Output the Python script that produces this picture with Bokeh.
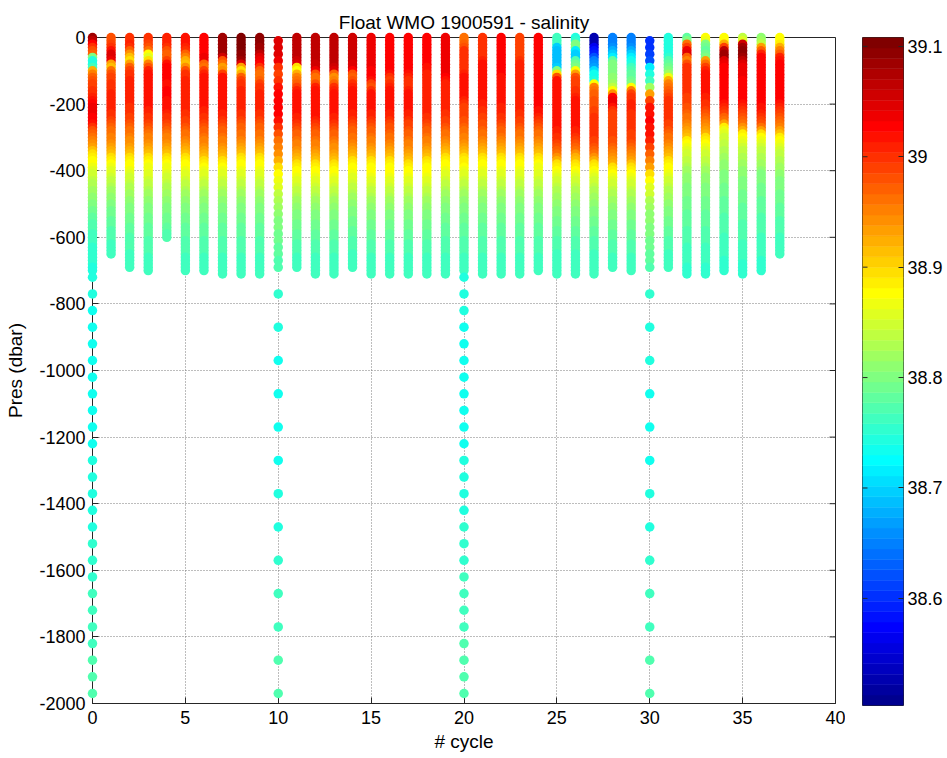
import numpy as np
from bokeh.plotting import figure
from bokeh.models import ColumnDataSource, LinearColorMapper, FixedTicker, Range1d
from bokeh.layouts import row
from bokeh.embed import file_html
from bokeh.resources import INLINE

FONT = "Liberation Sans"

# ---------------- texts / ticks ----------------
title_text = "Float WMO 1900591 - salinity"
x_label = "# cycle"
y_label = "Pres (dbar)"
x_ticks = [0, 5, 10, 15, 20, 25, 30, 35, 40]
y_ticks = [-2000, -1800, -1600, -1400, -1200, -1000, -800, -600, -400, -200, 0]
cbar_ticks = [38.6, 38.7, 38.8, 38.9, 39.0, 39.1]
sal_low = 38.503
sal_high = 39.108

# ---------------- pressure levels (dbar, plotted negative) ----------------
pres_10 = [0, -10, -20, -30, -40, -50, -60, -70, -80, -90,
           -100, -110, -120, -130, -140, -150, -160, -170, -180, -190,
           -200, -210, -220, -230, -240, -250, -260, -270, -280, -290,
           -300, -310, -320, -330, -340, -350, -360, -370, -380, -390,
           -400, -410, -420, -430, -440, -450, -460, -470, -480, -490,
           -500, -510, -520, -530, -540, -550, -560, -570, -580, -590,
           -600, -610, -620, -630, -640, -650, -660, -670, -680, -690,
           -700, -710]
pres_20 = [-10, -30, -50, -70, -90, -110, -130, -150, -170, -190,
           -210, -230, -250, -270, -290, -310, -330, -350, -370, -390,
           -410, -430, -450, -470, -490, -510, -530, -550, -570, -590,
           -610, -630, -650, -670, -690]
deep_pres_50 = [-720, -770, -820, -870, -920, -970, -1020, -1070, -1120, -1170,
                -1220, -1270, -1320, -1370, -1420, -1470, -1520, -1570, -1620, -1670,
                -1720, -1770, -1820, -1870, -1920, -1970]
deep_pres_100 = [-770, -870, -970, -1070, -1170, -1270, -1370, -1470, -1570, -1670,
                 -1770, -1870, -1970]

# ---------------- salinity profiles per cycle ----------------
sal_c00 = [39.08, 39.07, 39.03, 39.00, 38.98, 38.97, 38.80, 38.74, 38.74, 38.76,
           38.92, 38.95, 38.97, 38.98, 38.99, 38.99, 39.00, 39.00, 39.01, 39.02,
           39.03, 39.04, 39.04, 39.04, 39.03, 39.03, 39.02, 39.00, 38.98, 38.97,
           38.96, 38.95, 38.94, 38.93, 38.91, 38.90, 38.89, 38.88, 38.88, 38.87,
           38.86, 38.85, 38.85, 38.84, 38.83, 38.83, 38.82, 38.82, 38.81, 38.81,
           38.80, 38.80, 38.79, 38.79, 38.78, 38.78, 38.77, 38.77, 38.77, 38.76,
           38.76, 38.76, 38.76, 38.75, 38.75, 38.75, 38.75, 38.75, 38.75, 38.74,
           38.74]
deep_sal_c00 = [38.74, 38.74, 38.73, 38.73, 38.73, 38.73, 38.73, 38.73, 38.73, 38.73,
                38.73, 38.74, 38.74, 38.74, 38.74, 38.74, 38.75, 38.75, 38.75, 38.76,
                38.76, 38.76, 38.76, 38.77, 38.77, 38.77]
sal_c01 = [38.98, 38.98, 38.99, 39.00, 39.02, 39.05, 39.05, 39.04, 38.93, 38.91,
           38.96, 38.98, 38.99, 38.99, 39.00, 39.00, 39.00, 39.01, 39.01, 39.01,
           39.01, 39.01, 39.01, 39.00, 39.00, 38.99, 38.98, 38.97, 38.96, 38.96,
           38.95, 38.95, 38.94, 38.93, 38.92, 38.91, 38.90, 38.89, 38.88, 38.87,
           38.86, 38.86, 38.85, 38.84, 38.84, 38.83, 38.82, 38.82, 38.81, 38.81,
           38.80, 38.80, 38.79, 38.79, 38.79, 38.78, 38.78, 38.78, 38.77, 38.77,
           38.77, 38.77, 38.76, 38.76, 38.76, 38.76]
sal_c02 = [39.00, 39.00, 39.01, 39.00, 38.97, 38.94, 38.91, 38.90, 38.93, 38.97,
           38.99, 39.00, 39.00, 39.01, 39.01, 39.01, 39.01, 39.01, 39.01, 39.01,
           39.01, 39.00, 39.00, 39.00, 38.99, 38.99, 38.98, 38.97, 38.96, 38.96,
           38.95, 38.94, 38.94, 38.93, 38.92, 38.91, 38.90, 38.89, 38.88, 38.88,
           38.87, 38.86, 38.85, 38.85, 38.84, 38.83, 38.83, 38.82, 38.82, 38.81,
           38.81, 38.80, 38.80, 38.80, 38.79, 38.79, 38.79, 38.78, 38.78, 38.78,
           38.77, 38.77, 38.77, 38.77, 38.77, 38.76, 38.76, 38.76, 38.76, 38.76]
sal_c03 = [39.00, 39.00, 38.99, 38.98, 38.96, 38.88, 38.86, 38.90, 38.95, 38.98,
           39.01, 39.02, 39.02, 39.02, 39.02, 39.02, 39.02, 39.02, 39.02, 39.02,
           39.02, 39.02, 39.01, 39.01, 39.00, 39.00, 38.99, 38.98, 38.97, 38.96,
           38.95, 38.95, 38.94, 38.93, 38.92, 38.91, 38.90, 38.89, 38.88, 38.87,
           38.87, 38.86, 38.86, 38.85, 38.84, 38.84, 38.83, 38.82, 38.82, 38.81,
           38.81, 38.80, 38.80, 38.80, 38.79, 38.79, 38.79, 38.78, 38.78, 38.78,
           38.78, 38.77, 38.77, 38.77, 38.77, 38.77, 38.76, 38.76, 38.76, 38.76,
           38.76]
sal_c04 = [39.01, 39.01, 39.01, 39.00, 38.98, 38.97, 38.97, 38.99, 39.02, 39.03,
           39.03, 39.03, 39.03, 39.03, 39.02, 39.02, 39.03, 39.03, 39.03, 39.02,
           39.02, 39.02, 39.02, 39.01, 39.00, 39.00, 38.99, 38.98, 38.97, 38.96,
           38.95, 38.95, 38.94, 38.93, 38.92, 38.91, 38.90, 38.89, 38.88, 38.87,
           38.87, 38.86, 38.85, 38.85, 38.84, 38.83, 38.83, 38.82, 38.82, 38.81,
           38.81, 38.80, 38.80, 38.80, 38.79, 38.79, 38.79, 38.78, 38.78, 38.77,
           38.77]
sal_c05 = [39.02, 39.02, 39.02, 39.01, 39.00, 38.97, 38.95, 38.92, 38.91, 38.94,
           38.98, 39.00, 39.00, 39.01, 39.01, 39.01, 39.01, 39.01, 39.01, 39.01,
           39.01, 39.01, 39.01, 39.00, 39.00, 38.99, 38.99, 38.98, 38.97, 38.96,
           38.96, 38.95, 38.94, 38.93, 38.92, 38.91, 38.90, 38.89, 38.88, 38.88,
           38.87, 38.86, 38.86, 38.85, 38.84, 38.84, 38.83, 38.82, 38.82, 38.81,
           38.81, 38.80, 38.80, 38.80, 38.79, 38.79, 38.79, 38.78, 38.78, 38.78,
           38.78, 38.77, 38.77, 38.77, 38.77, 38.77, 38.76, 38.76, 38.76, 38.76,
           38.76]
sal_c06 = [39.03, 39.03, 39.03, 39.03, 39.03, 39.03, 39.04, 39.04, 38.97, 38.96,
           38.99, 39.01, 39.02, 39.02, 39.02, 39.02, 39.02, 39.02, 39.02, 39.02,
           39.02, 39.02, 39.01, 39.01, 39.00, 39.00, 38.99, 38.98, 38.97, 38.97,
           38.96, 38.95, 38.95, 38.94, 38.93, 38.92, 38.91, 38.90, 38.89, 38.88,
           38.87, 38.86, 38.86, 38.85, 38.84, 38.84, 38.83, 38.82, 38.82, 38.81,
           38.81, 38.80, 38.80, 38.80, 38.79, 38.79, 38.79, 38.78, 38.78, 38.78,
           38.78, 38.77, 38.77, 38.77, 38.77, 38.77, 38.76, 38.76, 38.76, 38.76,
           38.76]
sal_c07 = [39.08, 39.08, 39.08, 39.08, 39.08, 39.08, 39.06, 38.98, 38.96, 38.93,
           38.94, 38.99, 39.02, 39.02, 39.02, 39.02, 39.02, 39.02, 39.02, 39.02,
           39.02, 39.02, 39.02, 39.01, 39.01, 39.00, 38.99, 38.98, 38.97, 38.97,
           38.96, 38.95, 38.95, 38.94, 38.93, 38.92, 38.91, 38.90, 38.89, 38.88,
           38.87, 38.86, 38.86, 38.85, 38.84, 38.84, 38.83, 38.82, 38.82, 38.81,
           38.81, 38.80, 38.80, 38.80, 38.79, 38.79, 38.79, 38.78, 38.78, 38.78,
           38.78, 38.77, 38.77, 38.77, 38.77, 38.77, 38.76, 38.76, 38.76, 38.76,
           38.76, 38.76]
sal_c08 = [39.10, 39.10, 39.10, 39.10, 39.10, 39.09, 39.09, 39.08, 39.05, 38.93,
           38.90, 38.92, 38.97, 38.99, 39.00, 39.00, 39.01, 39.01, 39.01, 39.01,
           39.01, 39.01, 39.01, 39.00, 39.00, 38.99, 38.98, 38.97, 38.97, 38.96,
           38.96, 38.95, 38.94, 38.93, 38.92, 38.91, 38.90, 38.89, 38.88, 38.88,
           38.87, 38.86, 38.86, 38.85, 38.84, 38.84, 38.83, 38.82, 38.82, 38.81,
           38.81, 38.80, 38.80, 38.80, 38.79, 38.79, 38.79, 38.78, 38.78, 38.78,
           38.78, 38.77, 38.77, 38.77, 38.77, 38.77, 38.76, 38.76, 38.76, 38.76,
           38.76, 38.76]
sal_c09 = [39.09, 39.09, 39.09, 39.08, 39.08, 39.07, 39.05, 39.04, 39.03, 39.00,
           38.97, 38.96, 38.96, 38.97, 38.99, 39.00, 39.00, 39.01, 39.01, 39.01,
           39.01, 39.01, 39.01, 39.00, 39.00, 38.99, 38.98, 38.97, 38.97, 38.96,
           38.96, 38.95, 38.94, 38.93, 38.92, 38.91, 38.90, 38.89, 38.88, 38.88,
           38.87, 38.86, 38.86, 38.85, 38.84, 38.84, 38.83, 38.82, 38.82, 38.81,
           38.81, 38.80, 38.80, 38.80, 38.79, 38.79, 38.79, 38.78, 38.78, 38.78,
           38.78, 38.77, 38.77, 38.77, 38.77, 38.77, 38.76, 38.76, 38.76, 38.76,
           38.76, 38.76]
sal_c10 = [39.05, 39.05, 39.05, 39.04, 39.00, 38.99, 39.00, 39.02, 39.03, 39.03,
           39.03, 39.03, 39.02, 39.00, 38.98, 38.96, 38.95, 38.94, 38.92, 38.90,
           38.88, 38.87, 38.86, 38.84, 38.83, 38.82, 38.81, 38.80, 38.80, 38.79,
           38.79, 38.78, 38.78, 38.77, 38.77]
deep_sal_c10 = [38.75, 38.74, 38.73, 38.73, 38.73, 38.73, 38.74, 38.74, 38.75, 38.76,
                38.76, 38.77, 38.77]
sal_c11 = [39.07, 39.07, 39.07, 39.07, 39.07, 39.07, 39.07, 39.06, 39.05, 38.90,
           38.88, 38.92, 38.95, 38.96, 38.97, 38.99, 39.01, 39.02, 39.02, 39.02,
           39.02, 39.02, 39.02, 39.02, 39.01, 39.01, 39.00, 38.99, 38.98, 38.97,
           38.97, 38.96, 38.95, 38.95, 38.94, 38.93, 38.92, 38.91, 38.90, 38.89,
           38.88, 38.88, 38.87, 38.86, 38.86, 38.85, 38.84, 38.84, 38.83, 38.82,
           38.82, 38.81, 38.81, 38.80, 38.80, 38.80, 38.79, 38.79, 38.79, 38.78,
           38.78, 38.78, 38.77, 38.77, 38.77, 38.77, 38.76, 38.76, 38.76, 38.76]
sal_c12 = [39.07, 39.07, 39.07, 39.07, 39.07, 39.07, 39.07, 39.07, 39.06, 39.06,
           39.04, 38.98, 38.96, 38.96, 38.98, 39.01, 39.02, 39.02, 39.02, 39.02,
           39.02, 39.02, 39.02, 39.02, 39.02, 39.01, 39.00, 38.99, 38.98, 38.97,
           38.97, 38.96, 38.95, 38.95, 38.94, 38.93, 38.92, 38.91, 38.90, 38.89,
           38.88, 38.88, 38.87, 38.86, 38.86, 38.85, 38.84, 38.84, 38.83, 38.82,
           38.82, 38.81, 38.81, 38.80, 38.80, 38.80, 38.79, 38.79, 38.79, 38.78,
           38.78, 38.78, 38.77, 38.77, 38.77, 38.77, 38.76, 38.76, 38.76, 38.76,
           38.76, 38.76]
sal_c13 = [39.07, 39.07, 39.07, 39.07, 39.07, 39.07, 39.07, 39.07, 39.07, 39.06,
           39.05, 38.97, 38.94, 38.95, 38.97, 39.00, 39.01, 39.02, 39.02, 39.02,
           39.02, 39.02, 39.02, 39.02, 39.01, 39.01, 39.00, 38.99, 38.98, 38.97,
           38.97, 38.96, 38.95, 38.94, 38.94, 38.93, 38.92, 38.91, 38.90, 38.89,
           38.88, 38.88, 38.87, 38.86, 38.86, 38.85, 38.84, 38.84, 38.83, 38.82,
           38.82, 38.81, 38.81, 38.80, 38.80, 38.80, 38.79, 38.79, 38.79, 38.78,
           38.78, 38.78, 38.77, 38.77, 38.77, 38.77, 38.76, 38.76, 38.76, 38.76,
           38.76, 38.76]
sal_c14 = [39.06, 39.06, 39.06, 39.06, 39.06, 39.06, 39.06, 39.06, 39.05, 39.05,
           39.03, 38.98, 38.97, 38.98, 39.00, 39.01, 39.02, 39.02, 39.02, 39.02,
           39.02, 39.02, 39.02, 39.01, 39.01, 39.00, 38.99, 38.98, 38.97, 38.97,
           38.96, 38.96, 38.95, 38.94, 38.93, 38.92, 38.91, 38.90, 38.89, 38.88,
           38.88, 38.87, 38.86, 38.86, 38.85, 38.84, 38.84, 38.83, 38.82, 38.82,
           38.81, 38.81, 38.80, 38.80, 38.80, 38.79, 38.79, 38.79, 38.78, 38.78,
           38.78, 38.77, 38.77, 38.77, 38.77, 38.76, 38.76, 38.76, 38.76, 38.76]
sal_c15 = [39.04, 39.04, 39.04, 39.04, 39.04, 39.04, 39.04, 39.04, 39.04, 39.04,
           39.03, 39.03, 39.03, 39.02, 38.99, 38.98, 39.00, 39.02, 39.02, 39.02,
           39.02, 39.02, 39.02, 39.01, 39.01, 39.00, 38.99, 38.98, 38.97, 38.97,
           38.96, 38.95, 38.95, 38.94, 38.93, 38.92, 38.91, 38.90, 38.89, 38.88,
           38.88, 38.88, 38.87, 38.86, 38.86, 38.85, 38.84, 38.84, 38.83, 38.82,
           38.82, 38.81, 38.81, 38.80, 38.80, 38.80, 38.79, 38.79, 38.79, 38.78,
           38.78, 38.78, 38.77, 38.77, 38.77, 38.77, 38.76, 38.76, 38.76, 38.76,
           38.76, 38.76]
sal_c16 = [39.03, 39.03, 39.03, 39.03, 39.03, 39.03, 39.03, 39.03, 39.03, 39.03,
           39.03, 39.02, 39.00, 38.99, 39.00, 39.01, 39.02, 39.02, 39.02, 39.02,
           39.02, 39.02, 39.02, 39.01, 39.01, 39.00, 38.99, 38.98, 38.98, 38.97,
           38.96, 38.96, 38.95, 38.94, 38.93, 38.92, 38.91, 38.90, 38.89, 38.88,
           38.88, 38.88, 38.87, 38.86, 38.86, 38.85, 38.84, 38.84, 38.83, 38.82,
           38.82, 38.81, 38.81, 38.80, 38.80, 38.80, 38.79, 38.79, 38.79, 38.78,
           38.78, 38.78, 38.77, 38.77, 38.77, 38.77, 38.76, 38.76, 38.76, 38.76,
           38.76, 38.76]
sal_c17 = [39.03, 39.03, 39.03, 39.03, 39.03, 39.03, 39.03, 39.03, 39.03, 39.03,
           39.03, 39.02, 39.01, 39.00, 39.00, 39.00, 39.01, 39.02, 39.02, 39.02,
           39.02, 39.02, 39.02, 39.01, 39.01, 39.00, 38.99, 38.99, 38.98, 38.97,
           38.97, 38.96, 38.95, 38.95, 38.94, 38.93, 38.92, 38.91, 38.90, 38.89,
           38.88, 38.88, 38.87, 38.86, 38.86, 38.85, 38.84, 38.84, 38.83, 38.82,
           38.82, 38.81, 38.81, 38.80, 38.80, 38.80, 38.79, 38.79, 38.79, 38.78,
           38.78, 38.78, 38.77, 38.77, 38.77, 38.77, 38.76, 38.76, 38.76, 38.76,
           38.76, 38.76]
sal_c18 = [39.03, 39.03, 39.03, 39.03, 39.03, 39.03, 39.03, 39.03, 39.03, 39.02,
           39.02, 39.01, 39.01, 39.01, 39.01, 39.01, 39.01, 39.01, 39.01, 39.01,
           39.01, 39.01, 39.01, 39.01, 39.00, 39.00, 38.99, 38.98, 38.97, 38.97,
           38.96, 38.95, 38.95, 38.94, 38.93, 38.92, 38.91, 38.90, 38.89, 38.88,
           38.88, 38.88, 38.87, 38.86, 38.86, 38.85, 38.84, 38.84, 38.83, 38.82,
           38.82, 38.81, 38.81, 38.80, 38.80, 38.80, 38.79, 38.79, 38.79, 38.78,
           38.78, 38.78, 38.77, 38.77, 38.77, 38.77, 38.76, 38.76, 38.76, 38.76,
           38.76, 38.76]
sal_c19 = [39.04, 39.04, 39.04, 39.04, 39.04, 39.04, 39.04, 39.04, 39.04, 39.04,
           39.04, 39.04, 39.03, 39.02, 39.01, 39.01, 39.01, 39.01, 39.01, 39.01,
           39.01, 39.01, 39.01, 39.00, 39.00, 38.99, 38.99, 38.98, 38.97, 38.96,
           38.96, 38.95, 38.94, 38.93, 38.92, 38.91, 38.90, 38.89, 38.88, 38.88,
           38.87, 38.86, 38.86, 38.85, 38.84, 38.84, 38.83, 38.82, 38.82, 38.81,
           38.81, 38.80, 38.80, 38.80, 38.79, 38.79, 38.79, 38.78, 38.78, 38.78,
           38.78, 38.77, 38.77, 38.77, 38.77, 38.77, 38.76, 38.76, 38.76, 38.76,
           38.76, 38.76]
sal_c20 = [38.96, 38.96, 38.97, 38.98, 39.00, 39.00, 39.00, 39.00, 39.00, 39.00,
           39.00, 39.01, 39.02, 39.02, 39.02, 39.02, 39.02, 39.02, 39.02, 39.01,
           39.00, 38.99, 38.99, 38.99, 38.99, 38.98, 38.98, 38.97, 38.96, 38.96,
           38.95, 38.95, 38.94, 38.93, 38.92, 38.91, 38.90, 38.89, 38.89, 38.88,
           38.87, 38.86, 38.86, 38.85, 38.84, 38.84, 38.83, 38.82, 38.82, 38.81,
           38.81, 38.80, 38.80, 38.80, 38.79, 38.79, 38.79, 38.78, 38.78, 38.78,
           38.78, 38.77, 38.77, 38.77, 38.77, 38.77, 38.76, 38.76, 38.76, 38.76,
           38.76]
deep_sal_c20 = [38.74, 38.74, 38.74, 38.73, 38.73, 38.73, 38.73, 38.73, 38.73, 38.73,
                38.73, 38.74, 38.74, 38.74, 38.74, 38.75, 38.75, 38.75, 38.76, 38.76,
                38.76, 38.76, 38.77, 38.77, 38.77, 38.77]
sal_c21 = [39.00, 39.00, 39.00, 39.00, 39.00, 39.00, 39.00, 39.01, 39.02, 39.02,
           39.02, 39.02, 39.02, 39.02, 39.02, 39.02, 39.02, 39.02, 39.02, 39.02,
           39.01, 39.01, 39.00, 39.00, 38.99, 38.99, 38.98, 38.98, 38.97, 38.96,
           38.96, 38.95, 38.94, 38.93, 38.92, 38.91, 38.90, 38.89, 38.88, 38.88,
           38.87, 38.86, 38.86, 38.85, 38.84, 38.84, 38.83, 38.82, 38.82, 38.81,
           38.81, 38.80, 38.80, 38.80, 38.79, 38.79, 38.79, 38.78, 38.78, 38.78,
           38.78, 38.77, 38.77, 38.77, 38.77, 38.77, 38.76, 38.76, 38.76, 38.76,
           38.76, 38.76]
sal_c22 = [39.03, 39.03, 39.03, 39.03, 39.03, 39.03, 39.03, 39.03, 39.03, 39.03,
           39.03, 39.03, 39.02, 39.02, 39.02, 39.02, 39.02, 39.02, 39.02, 39.02,
           39.02, 39.01, 39.01, 39.01, 39.00, 39.00, 38.99, 38.98, 38.97, 38.97,
           38.96, 38.95, 38.94, 38.93, 38.92, 38.91, 38.90, 38.89, 38.88, 38.88,
           38.87, 38.86, 38.86, 38.85, 38.84, 38.84, 38.83, 38.82, 38.82, 38.81,
           38.81, 38.80, 38.80, 38.80, 38.79, 38.79, 38.79, 38.78, 38.78, 38.78,
           38.78, 38.77, 38.77, 38.77, 38.77, 38.77, 38.76, 38.76, 38.76, 38.76,
           38.76, 38.76]
sal_c23 = [38.99, 38.99, 38.99, 38.99, 38.99, 38.99, 38.99, 39.00, 39.01, 39.01,
           39.01, 39.01, 39.01, 39.01, 39.01, 39.01, 39.01, 39.01, 39.01, 39.01,
           39.01, 39.01, 39.01, 39.00, 39.00, 38.99, 38.99, 38.98, 38.97, 38.96,
           38.96, 38.95, 38.94, 38.93, 38.92, 38.91, 38.90, 38.89, 38.88, 38.88,
           38.87, 38.86, 38.86, 38.85, 38.84, 38.84, 38.83, 38.82, 38.82, 38.81,
           38.81, 38.80, 38.80, 38.80, 38.79, 38.79, 38.79, 38.78, 38.78, 38.78,
           38.78, 38.77, 38.77, 38.77, 38.77, 38.77, 38.76, 38.76, 38.76, 38.76,
           38.76, 38.76]
sal_c24 = [39.03, 39.03, 39.03, 39.03, 39.03, 39.03, 39.03, 39.03, 39.03, 39.03,
           39.03, 39.03, 39.03, 39.03, 39.03, 39.03, 39.03, 39.03, 39.03, 39.03,
           39.03, 39.03, 39.02, 39.02, 39.01, 39.00, 38.99, 38.98, 38.97, 38.96,
           38.96, 38.95, 38.94, 38.93, 38.92, 38.91, 38.90, 38.89, 38.88, 38.87,
           38.87, 38.86, 38.86, 38.85, 38.84, 38.84, 38.83, 38.82, 38.82, 38.81,
           38.81, 38.80, 38.80, 38.80, 38.79, 38.79, 38.79, 38.78, 38.78, 38.78,
           38.78, 38.77, 38.77, 38.77, 38.77, 38.77, 38.76, 38.76, 38.76, 38.76,
           38.76]
sal_c25 = [38.76, 38.76, 38.76, 38.70, 38.69, 38.69, 38.69, 38.69, 38.69, 38.70,
           38.80, 38.90, 38.98, 39.02, 39.02, 39.02, 39.02, 39.02, 39.02, 39.02,
           39.02, 39.02, 39.02, 39.02, 39.02, 39.02, 39.02, 39.02, 39.01, 39.01,
           39.00, 39.00, 38.99, 38.98, 38.97, 38.96, 38.94, 38.92, 38.90, 38.89,
           38.88, 38.87, 38.86, 38.85, 38.85, 38.84, 38.83, 38.83, 38.82, 38.82,
           38.81, 38.81, 38.80, 38.80, 38.80, 38.79, 38.79, 38.79, 38.78, 38.78,
           38.78, 38.77, 38.77, 38.77, 38.77, 38.76, 38.76, 38.76, 38.76, 38.76,
           38.76, 38.76]
sal_c26 = [38.74, 38.75, 38.80, 38.80, 38.72, 38.70, 38.70, 38.77, 38.79, 38.80,
           38.88, 38.93, 38.98, 38.99, 38.99, 38.99, 39.00, 39.00, 39.01, 39.02,
           39.02, 39.02, 39.02, 39.02, 39.02, 39.02, 39.02, 39.02, 39.01, 39.01,
           39.00, 38.99, 38.98, 38.97, 38.96, 38.94, 38.92, 38.91, 38.90, 38.89,
           38.88, 38.87, 38.86, 38.85, 38.85, 38.84, 38.83, 38.83, 38.82, 38.82,
           38.81, 38.81, 38.80, 38.80, 38.80, 38.79, 38.79, 38.79, 38.78, 38.78,
           38.78, 38.77, 38.77, 38.77, 38.77, 38.76, 38.76, 38.76, 38.76, 38.76,
           38.76, 38.76]
sal_c27 = [38.53, 38.53, 38.53, 38.56, 38.58, 38.59, 38.62, 38.65, 38.66, 38.67,
           38.71, 38.73, 38.73, 38.74, 38.88, 38.95, 38.96, 38.97, 38.97, 38.98,
           38.98, 38.98, 38.99, 38.99, 39.00, 39.00, 39.00, 39.00, 39.00, 39.00,
           39.00, 38.99, 38.99, 38.98, 38.97, 38.96, 38.94, 38.92, 38.90, 38.89,
           38.88, 38.87, 38.86, 38.85, 38.85, 38.84, 38.83, 38.83, 38.82, 38.82,
           38.81, 38.81, 38.80, 38.80, 38.80, 38.79, 38.79, 38.79, 38.78, 38.78,
           38.78, 38.77, 38.77, 38.77, 38.77, 38.76, 38.76, 38.76, 38.76, 38.76,
           38.76, 38.76]
sal_c28 = [38.65, 38.65, 38.65, 38.66, 38.68, 38.70, 38.72, 38.78, 38.80, 38.80,
           38.80, 38.80, 38.81, 38.81, 38.82, 38.84, 38.88, 38.94, 39.03, 39.04,
           39.04, 39.02, 39.00, 38.99, 38.99, 38.99, 38.99, 38.99, 38.99, 38.99,
           38.99, 38.98, 38.98, 38.97, 38.96, 38.95, 38.94, 38.93, 38.92, 38.90,
           38.89, 38.88, 38.87, 38.86, 38.85, 38.85, 38.84, 38.83, 38.83, 38.82,
           38.82, 38.81, 38.81, 38.80, 38.80, 38.80, 38.79, 38.79, 38.79, 38.78,
           38.78, 38.78, 38.77, 38.77, 38.77, 38.77, 38.76, 38.76, 38.76, 38.76]
sal_c29 = [38.65, 38.65, 38.65, 38.66, 38.68, 38.70, 38.72, 38.73, 38.74, 38.76,
           38.77, 38.78, 38.78, 38.79, 38.80, 38.88, 38.95, 38.99, 39.00, 39.00,
           39.01, 39.01, 39.01, 39.00, 39.00, 39.00, 39.00, 39.00, 39.00, 38.99,
           38.99, 38.99, 38.98, 38.97, 38.96, 38.95, 38.94, 38.93, 38.91, 38.90,
           38.89, 38.88, 38.87, 38.86, 38.85, 38.85, 38.84, 38.83, 38.83, 38.82,
           38.82, 38.81, 38.81, 38.80, 38.80, 38.80, 38.79, 38.79, 38.79, 38.78,
           38.78, 38.78, 38.77, 38.77, 38.77, 38.77, 38.76, 38.76, 38.76, 38.76,
           38.76]
sal_c30 = [38.60, 38.60, 38.61, 38.62, 38.72, 38.74, 38.76, 38.82, 38.93, 38.99,
           39.02, 39.02, 39.03, 39.02, 39.02, 39.01, 38.99, 38.97, 38.95, 38.93,
           38.90, 38.88, 38.86, 38.85, 38.83, 38.82, 38.81, 38.81, 38.80, 38.80,
           38.79, 38.79, 38.78, 38.78, 38.77]
deep_sal_c30 = [38.75, 38.74, 38.74, 38.73, 38.73, 38.73, 38.74, 38.74, 38.75, 38.76,
                38.76, 38.77, 38.77]
sal_c31 = [38.74, 38.74, 38.74, 38.74, 38.74, 38.74, 38.75, 38.77, 38.78, 38.79,
           38.80, 38.82, 38.87, 38.92, 38.95, 38.96, 38.97, 38.98, 38.99, 39.00,
           39.00, 39.00, 39.00, 39.00, 39.00, 39.00, 38.99, 38.99, 38.98, 38.97,
           38.96, 38.96, 38.95, 38.94, 38.93, 38.92, 38.91, 38.90, 38.89, 38.88,
           38.88, 38.87, 38.86, 38.85, 38.85, 38.84, 38.83, 38.83, 38.82, 38.82,
           38.81, 38.81, 38.80, 38.80, 38.80, 38.79, 38.79, 38.79, 38.78, 38.78,
           38.78, 38.77, 38.77, 38.77, 38.77, 38.76, 38.76, 38.76, 38.76, 38.76]
sal_c32 = [38.78, 38.80, 38.96, 38.99, 39.04, 39.05, 38.97, 38.95, 38.98, 39.00,
           39.00, 39.00, 39.00, 39.00, 39.00, 39.00, 39.00, 39.00, 38.99, 38.99,
           38.99, 38.98, 38.98, 38.97, 38.96, 38.96, 38.95, 38.94, 38.93, 38.92,
           38.91, 38.89, 38.88, 38.87, 38.86, 38.85, 38.85, 38.84, 38.84, 38.83,
           38.82, 38.82, 38.81, 38.81, 38.81, 38.80, 38.80, 38.80, 38.80, 38.79,
           38.79, 38.79, 38.79, 38.78, 38.78, 38.78, 38.78, 38.78, 38.77, 38.77,
           38.77, 38.77, 38.77, 38.76, 38.76, 38.76, 38.76, 38.76, 38.76, 38.75,
           38.75, 38.75]
sal_c33 = [38.88, 38.87, 38.80, 38.79, 38.78, 38.79, 38.80, 38.93, 38.96, 38.99,
           39.01, 39.02, 39.02, 39.02, 39.02, 39.02, 39.02, 39.02, 39.01, 39.01,
           39.00, 39.00, 38.99, 38.98, 38.97, 38.96, 38.95, 38.94, 38.93, 38.92,
           38.90, 38.89, 38.88, 38.87, 38.86, 38.85, 38.85, 38.84, 38.84, 38.83,
           38.82, 38.82, 38.81, 38.81, 38.81, 38.80, 38.80, 38.80, 38.80, 38.79,
           38.79, 38.79, 38.79, 38.78, 38.78, 38.78, 38.78, 38.78, 38.77, 38.77,
           38.77, 38.77, 38.77, 38.76, 38.76, 38.76, 38.76, 38.76, 38.76, 38.75,
           38.75, 38.75]
sal_c34 = [38.88, 38.88, 38.92, 38.99, 39.07, 39.08, 39.08, 39.05, 39.04, 39.03,
           39.03, 39.03, 39.03, 39.03, 39.03, 39.03, 39.03, 39.03, 39.03, 39.03,
           39.02, 39.01, 39.00, 38.99, 38.97, 38.96, 38.93, 38.89, 38.87, 38.86,
           38.85, 38.85, 38.84, 38.84, 38.83, 38.83, 38.82, 38.82, 38.81, 38.81,
           38.81, 38.80, 38.80, 38.80, 38.80, 38.79, 38.79, 38.79, 38.79, 38.78,
           38.78, 38.78, 38.78, 38.78, 38.77, 38.77, 38.77, 38.77, 38.77, 38.77,
           38.76, 38.76, 38.76, 38.76, 38.76, 38.76, 38.76, 38.75, 38.75, 38.75,
           38.75]
sal_c35 = [38.84, 38.86, 39.06, 39.08, 39.09, 39.09, 39.08, 39.07, 39.05, 39.04,
           39.04, 39.04, 39.04, 39.03, 39.03, 39.03, 39.03, 39.03, 39.03, 39.03,
           39.02, 39.01, 39.00, 38.99, 38.98, 38.97, 38.96, 38.94, 38.92, 38.89,
           38.88, 38.87, 38.86, 38.85, 38.84, 38.84, 38.83, 38.83, 38.82, 38.82,
           38.81, 38.81, 38.81, 38.80, 38.80, 38.80, 38.80, 38.79, 38.79, 38.79,
           38.79, 38.78, 38.78, 38.78, 38.78, 38.78, 38.77, 38.77, 38.77, 38.77,
           38.77, 38.77, 38.76, 38.76, 38.76, 38.76, 38.76, 38.76, 38.75, 38.75,
           38.75, 38.75]
sal_c36 = [38.81, 38.82, 38.84, 38.93, 38.97, 39.01, 39.03, 39.03, 39.03, 39.03,
           39.03, 39.03, 39.03, 39.03, 39.03, 39.03, 39.03, 39.03, 39.03, 39.03,
           39.03, 39.02, 39.02, 39.01, 39.00, 38.99, 38.98, 38.96, 38.93, 38.90,
           38.88, 38.87, 38.86, 38.85, 38.84, 38.84, 38.83, 38.83, 38.82, 38.82,
           38.81, 38.80, 38.80, 38.80, 38.80, 38.79, 38.79, 38.79, 38.79, 38.78,
           38.78, 38.78, 38.78, 38.78, 38.77, 38.77, 38.77, 38.77, 38.77, 38.77,
           38.76, 38.76, 38.76, 38.76, 38.76, 38.76, 38.76, 38.75, 38.75, 38.75,
           38.75]
sal_c37 = [38.88, 38.88, 38.89, 38.92, 38.95, 38.97, 39.01, 39.02, 39.03, 39.03,
           39.03, 39.03, 39.03, 39.03, 39.03, 39.03, 39.03, 39.03, 39.03, 39.03,
           39.02, 39.01, 39.00, 38.99, 38.98, 38.97, 38.96, 38.95, 38.93, 38.91,
           38.89, 38.88, 38.87, 38.86, 38.85, 38.84, 38.84, 38.83, 38.83, 38.82,
           38.82, 38.81, 38.81, 38.80, 38.80, 38.80, 38.80, 38.79, 38.79, 38.79,
           38.79, 38.78, 38.78, 38.78, 38.78, 38.77, 38.77, 38.77, 38.77, 38.77,
           38.76, 38.76, 38.76, 38.76, 38.76, 38.76]

profiles = [sal_c00, sal_c01, sal_c02, sal_c03, sal_c04, sal_c05, sal_c06, sal_c07,
            sal_c08, sal_c09, sal_c10, sal_c11, sal_c12, sal_c13, sal_c14, sal_c15,
            sal_c16, sal_c17, sal_c18, sal_c19, sal_c20, sal_c21, sal_c22, sal_c23,
            sal_c24, sal_c25, sal_c26, sal_c27, sal_c28, sal_c29, sal_c30, sal_c31,
            sal_c32, sal_c33, sal_c34, sal_c35, sal_c36, sal_c37]
coarse_cycles = [10, 30]
deep_profiles = {0: (deep_pres_50, deep_sal_c00), 10: (deep_pres_100, deep_sal_c10),
                 20: (deep_pres_50, deep_sal_c20), 30: (deep_pres_100, deep_sal_c30)}

cyc, prs, sal = [], [], []
for c, prof in enumerate(profiles):
    levels = pres_20 if c in coarse_cycles else pres_10
    for pz, s in zip(levels, prof):
        cyc.append(c); prs.append(pz); sal.append(s)
    if c in deep_profiles:
        dp, ds = deep_profiles[c]
        for pz, s in zip(dp, ds):
            cyc.append(c); prs.append(pz); sal.append(s)

src = ColumnDataSource(dict(cycle=cyc, pres=prs, sal=sal))


# ---------------- MATLAB jet(64) palette ----------------
def jet(m=64):
    n = int(np.ceil(m / 4))
    u = np.concatenate([np.arange(1, n + 1) / n, np.ones(n - 1), np.arange(n, 0, -1) / n])
    g = int(np.ceil(n / 2)) - (1 if m % 4 == 1 else 0) + np.arange(1, len(u) + 1)
    r = g + n
    b = g - n
    J = np.zeros((m, 3))
    rm = r <= m
    J[r[rm] - 1, 0] = u[:rm.sum()]
    gm = g <= m
    J[g[gm] - 1, 1] = u[:gm.sum()]
    bm = b >= 1
    J[b[bm] - 1, 2] = u[len(u) - bm.sum():]
    return ["#%02x%02x%02x" % tuple(int(round(255 * v)) for v in rowv) for rowv in J]


palette = jet(64)
mapper = LinearColorMapper(palette=palette, low=sal_low, high=sal_high)

AX = "#262626"
TXT = "#000000"
FS_TICK = "18px"
FS_LAB = "19px"

# ---------------- main plot ----------------
p = figure(frame_width=743, frame_height=666,
           x_range=Range1d(0, 40), y_range=Range1d(-2000, 0),
           min_border_left=92, min_border_right=10, min_border_top=37, min_border_bottom=52,
           output_backend="svg", toolbar_location=None, title=title_text)
p.title.align = "center"
p.title.text_font = FONT
p.title.text_font_size = FS_LAB
p.title.text_font_style = "normal"
p.title.text_color = TXT
p.title.standoff = 9

p.background_fill_color = "white"
p.border_fill_color = "white"
p.outline_line_color = AX
p.outline_line_width = 1

p.xaxis.ticker = FixedTicker(ticks=x_ticks)
p.yaxis.ticker = FixedTicker(ticks=y_ticks)
p.xgrid.ticker = FixedTicker(ticks=x_ticks)
p.ygrid.ticker = FixedTicker(ticks=y_ticks)
p.yaxis.major_label_overrides = {t: str(t) for t in y_ticks}
p.xaxis.axis_label = x_label
p.yaxis.axis_label = y_label

for ax in (p.xaxis[0], p.yaxis[0]):
    ax.major_tick_in = 6
    ax.major_tick_out = 0
    ax.minor_tick_in = 0
    ax.minor_tick_out = 0
    ax.axis_line_color = AX
    ax.major_tick_line_color = AX
    ax.major_label_text_font = FONT
    ax.major_label_text_font_size = FS_TICK
    ax.major_label_text_color = TXT
    ax.axis_label_text_font = FONT
    ax.axis_label_text_font_size = FS_LAB
    ax.axis_label_text_font_style = "normal"
    ax.axis_label_text_color = TXT
p.yaxis.major_label_standoff = 7
p.yaxis.axis_label_standoff = 10
p.xaxis.major_label_standoff = 7
p.xaxis.axis_label_standoff = 4

for g in (p.xgrid[0], p.ygrid[0]):
    g.grid_line_color = "#7a7a7a"
    g.grid_line_dash = "1 2"
    g.grid_line_width = 1

# mirrored tick marks on the right and top edges of the box
p.ray(x=[40] * len(y_ticks), y=y_ticks, length=6, length_units="screen",
      angle=np.pi, line_color=AX, line_width=1)
p.ray(x=x_ticks, y=[0] * len(x_ticks), length=6, length_units="screen",
      angle=-np.pi / 2, line_color=AX, line_width=1)

r = p.scatter(x="cycle", y="pres", source=src, size=9.5, marker="circle",
              fill_color={"field": "sal", "transform": mapper}, line_color=None)
r.level = "overlay"

# ---------------- colour bar ----------------
cb = figure(frame_width=41, frame_height=668,
            x_range=Range1d(0, 1), y_range=Range1d(sal_low, sal_high),
            min_border_left=17, min_border_right=42, min_border_top=35, min_border_bottom=52,
            output_backend="svg", toolbar_location=None, y_axis_location="right")
cb.xaxis.visible = False
cb.grid.visible = False
cb.outline_line_color = AX
cb.background_fill_color = "white"
cb.border_fill_color = "white"
edges = np.linspace(sal_low, sal_high, len(palette) + 1)
cb.quad(left=0, right=1, bottom=edges[:-1], top=edges[1:],
        fill_color=palette, line_color=palette, line_width=0.5)
cb.ray(x=[0] * len(cbar_ticks), y=cbar_ticks, length=5, length_units="screen",
       angle=0, line_color=AX, line_width=1)
cax = cb.yaxis[0]
cax.ticker = FixedTicker(ticks=cbar_ticks)
cax.major_label_overrides = {39.0: "39"}
cax.major_tick_in = 5
cax.major_tick_out = 0
cax.minor_tick_in = 0
cax.minor_tick_out = 0
cax.axis_line_color = None
cax.major_tick_line_color = AX
cax.major_label_text_font = FONT
cax.major_label_text_font_size = FS_TICK
cax.major_label_text_color = TXT
cax.major_label_standoff = 4

layout = row(p, cb)
open("out.html", "w").write(file_html(layout, INLINE))
